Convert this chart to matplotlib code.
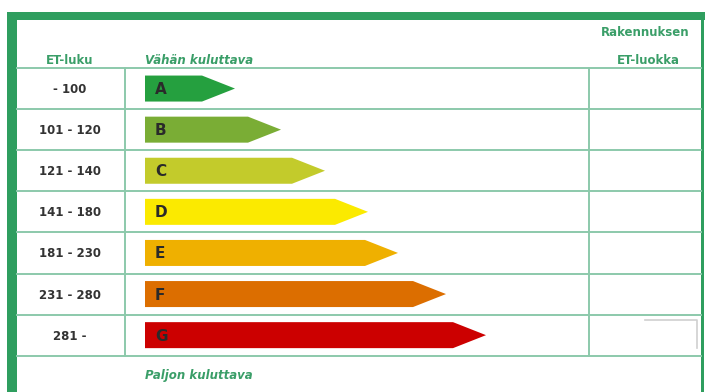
import matplotlib
matplotlib.use('Agg')
import matplotlib.pyplot as plt
from matplotlib.patches import Polygon, Rectangle

# energialuokat
classes = ['A', 'B', 'C', 'D', 'E', 'F', 'G']
ranges = ['- 100', '101 - 120', '121 - 140', '141 - 180', '181 - 230', '231 - 280', '281 -']
arrow_ends = [235, 281, 325, 368, 398, 446, 486]   # kärjen x (kuvapikseleinä)
colors = ['#25a03f', '#7aad35', '#c3cb2b', '#fbea00', '#efb000', '#dc6e00', '#cc0000']

W, H = 705, 392
GREEN = '#2f9e5f'
LINE = '#8cc9ab'
TXT = '#3a9e68'

fig = plt.figure(figsize=(W / 100, H / 100), dpi=100)
ax = fig.add_axes([0, 0, 1, 1])
ax.set_xlim(0, W)
ax.set_ylim(H, 0)
ax.axis('off')

# kehys
ax.add_patch(Rectangle((7, 12), W - 7, 8, color=GREEN, lw=0))
ax.add_patch(Rectangle((7, 12), 10, H - 12, color=GREEN, lw=0))
ax.add_patch(Rectangle((701, 12), 3, H - 12, color=GREEN, lw=0))

# taulukon viivat
row0, row_h = 68, 41.1
n = len(classes)
for i in range(n + 1):
    y = row0 + i * row_h
    ax.plot([17, 701], [y, y], color=LINE, lw=1.4)
y_end = row0 + n * row_h
ax.plot([125, 125], [row0, y_end], color=LINE, lw=1.4)
ax.plot([589, 589], [row0, y_end], color=LINE, lw=1.4)

# otsikot
ax.text(70, 60, 'ET-luku', ha='center', va='center', fontsize=8.5, color=TXT, fontweight='bold')
ax.text(145, 60, 'Vähän kuluttava', ha='left', va='center', fontsize=8.5, color=TXT,
        fontweight='bold', style='italic')
ax.text(645, 32, 'Rakennuksen', ha='center', va='center', fontsize=8.5, color=TXT, fontweight='bold')
ax.text(648, 60, 'ET-luokka', ha='center', va='center', fontsize=8.5, color=TXT, fontweight='bold')
ax.text(145, 376, 'Paljon kuluttava', ha='left', va='center', fontsize=8.5, color=TXT,
        fontweight='bold', style='italic')

# nuolet
x0, half, tip = 145, 13, 33
for i, (cls, rng, xe, c) in enumerate(zip(classes, ranges, arrow_ends, colors)):
    yc = row0 + (i + 0.5) * row_h
    pts = [(x0, yc - half), (xe - tip, yc - half), (xe, yc), (xe - tip, yc + half), (x0, yc + half)]
    ax.add_patch(Polygon(pts, closed=True, facecolor=c, edgecolor='none'))
    ax.text(x0 + 10, yc + 1, cls, ha='left', va='center', fontsize=11, fontweight='bold', color='#2a2a2a')
    ax.text(70, yc + 1, rng, ha='center', va='center', fontsize=8.5, fontweight='bold', color='#333333')

# harmaa kulma viimeisessä solussa
ax.plot([645, 697, 697], [320, 320, 348], color='#cfcfcf', lw=1.2)

fig.savefig('out.png', dpi=100, facecolor='white')
